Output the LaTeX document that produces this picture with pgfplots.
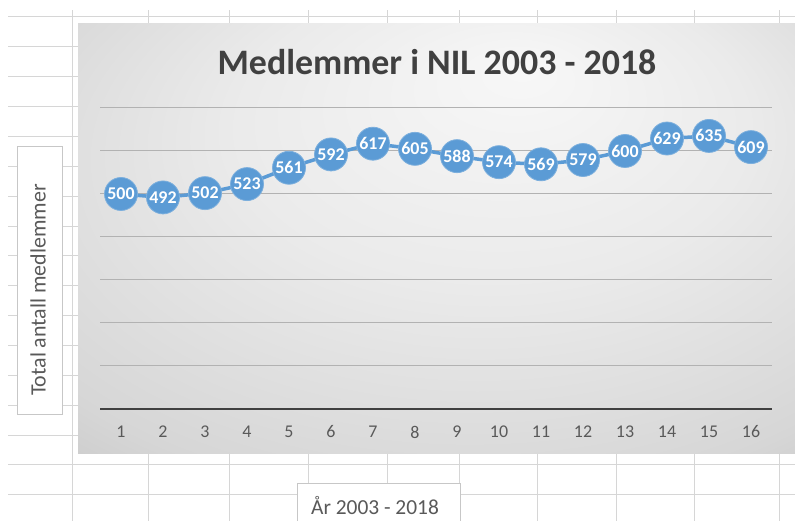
\documentclass[border=0pt]{standalone}
\usepackage{pgfplots}
\pgfplotsset{compat=1.18}
\usepackage{fontspec}
\setmainfont{Carlito}
\definecolor{xlblue}{HTML}{5B9BD5}
\definecolor{gridc}{HTML}{D6D6D6}
\definecolor{titlec}{HTML}{404040}
\definecolor{tickc}{HTML}{595959}
\pgfdeclareradialshading{chartbg}{\pgfpoint{6bp}{20bp}}{color(0bp)=(white!97!black); color(18bp)=(white!92!black); color(36bp)=(white!84!black); color(50bp)=(white!72!black)}
\begin{document}
\begin{tikzpicture}[x=1bp,y=1bp]
\useasboundingbox (0,0) rectangle (795,521);
\fill[white] (0,0) rectangle (795,521);
\foreach \yy in {17,47,77,107,137,167,197,227,256,286,316,346,376,406,436,465,495}
  \draw[gridc, line width=1bp] (8,{521-\yy}) -- (795,{521-\yy});
\foreach \xx in {72,148,229,308,387,459,537,616,694,779}
  \draw[gridc, line width=1bp] (\xx,0) -- (\xx,511);
\shade[shading=chartbg] (78,67) rectangle (797,497);
\begin{axis}[
  at={(100bp,112bp)}, anchor=south west,
  scale only axis, width=672bp, height=301bp,
  xmin=0.5, xmax=16.5, ymin=0, ymax=700,
  clip=false,
  /pgf/number format/assume math mode=true,
  axis line style={draw=none},
  ytick={100,200,...,700}, yticklabels={}, ytick style={draw=none},
  ymajorgrids, grid style={draw=black!30, line width=1bp},
  extra y ticks={0}, extra y tick labels={},
  extra y tick style={grid style={draw=black!75, line width=2.5bp}, tick style={draw=none}},
  xtick={1,...,16}, xtick style={draw=none},
  xticklabel style={font=\fontsize{18}{18}\selectfont, text=tickc, anchor=center, yshift=-23bp},
]
\addplot[xlblue, line width=3.5bp, mark=*, mark size=16.5bp,
  mark options={fill=xlblue, draw=xlblue!80!white, line width=0.8bp},
  nodes near coords,
  every node near coord/.append style={anchor=center, text=white, inner sep=0pt, font=\bfseries\fontsize{18}{18}\selectfont}]
coordinates {(1,500) (2,492) (3,502) (4,523) (5,561) (6,592) (7,617) (8,605) (9,588) (10,574) (11,569) (12,579) (13,600) (14,629) (15,635) (16,609)};
\end{axis}
\node[font=\bfseries\fontsize{36}{36}\selectfont, text=titlec, anchor=base] at (437,446) {Medlemmer i NIL 2003 - 2018};
\draw[black!22, fill=white, line width=1bp] (17,106) rectangle (62,374);
\node[rotate=90, font=\fontsize{22}{22}\selectfont, text=tickc] at (38,231) {Total antall medlemmer};
\draw[black!22, fill=white, line width=1bp] (297,-5) rectangle (460,37);
\node[font=\fontsize{21.5}{21.5}\selectfont, text=tickc, anchor=base] at (375,6) {År 2003 - 2018};
\end{tikzpicture}
\end{document}
